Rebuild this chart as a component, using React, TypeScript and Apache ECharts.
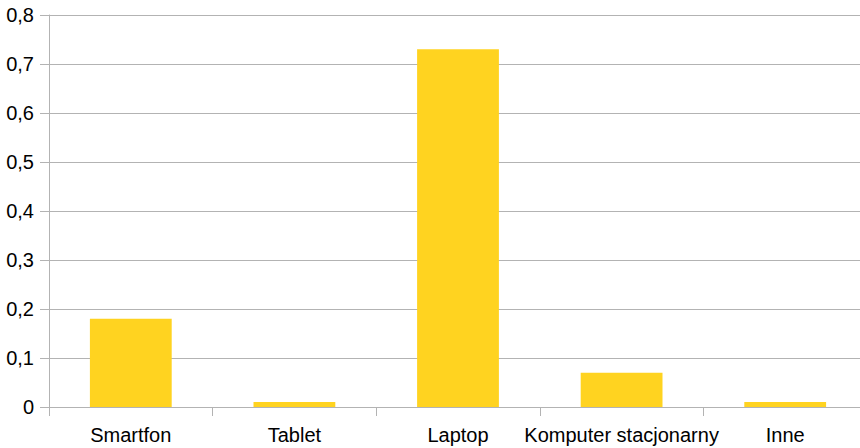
import React, { useEffect, useRef } from "react";
import * as echarts from "echarts";

const categories = ["Smartfon", "Tablet", "Laptop", "Komputer stacjonarny", "Inne"];
const values = [0.18, 0.01, 0.73, 0.07, 0.01];

export default function App() {
  const ref = useRef<HTMLDivElement>(null);
  useEffect(() => {
    document.body.style.margin = "0";
    document.body.style.overflow = "hidden";
    const chart = echarts.init(ref.current!, null, { renderer: "svg" });
    chart.setOption({
      animation: false,
      backgroundColor: "#ffffff",
      grid: { left: 49, right: 0, top: 15, bottom: 41, containLabel: false },
      xAxis: {
        type: "category",
        data: categories,
        axisLine: { show: true, lineStyle: { color: "#b3b3b3", width: 1 } },
        axisTick: { show: true, length: 9, alignWithLabel: false, lineStyle: { color: "#b3b3b3" } },
        axisLabel: { color: "#000", fontSize: 20, fontFamily: "Liberation Sans", margin: 18, interval: 0 },
        splitLine: { show: false },
      },
      yAxis: {
        type: "value",
        min: 0,
        max: 0.8,
        interval: 0.1,
        axisLine: { show: true, lineStyle: { color: "#b3b3b3", width: 1 } },
        axisTick: { show: true, length: 9, lineStyle: { color: "#b3b3b3" } },
        axisLabel: {
          color: "#000",
          fontSize: 20,
          fontFamily: "Liberation Sans",
          margin: 15,
          formatter: (v: number) => (Math.round(v * 10) / 10).toString().replace(".", ","),
        },
        splitLine: { show: true, lineStyle: { color: "#b3b3b3", width: 1 } },
      },
      series: [
        {
          type: "bar",
          data: values,
          barWidth: "50%",
          itemStyle: { color: "#ffd320" },
        },
      ],
    });
    return () => chart.dispose();
  }, []);
  return (
    <div style={{ width: 860, height: 448, overflow: "hidden" }}>
      <div ref={ref} style={{ width: 867, height: 448 }} />
    </div>
  );
}
